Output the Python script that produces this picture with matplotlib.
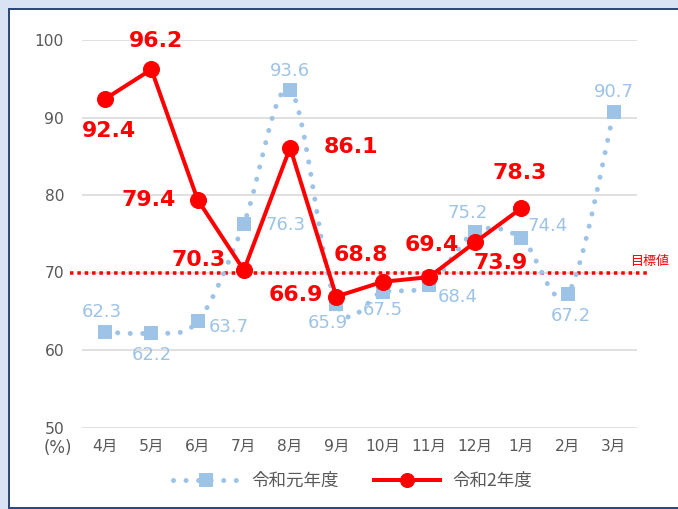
import matplotlib
matplotlib.use('Agg')
import matplotlib.pyplot as plt
import numpy as np
from matplotlib.lines import Line2D
from matplotlib.patches import PathPatch, Rectangle
from matplotlib.path import Path

plt.rcParams['font.family'] = ['DejaVu Sans', 'Noto Sans CJK JP']

months = ['4月', '5月', '6月', '7月', '8月', '9月', '10月', '11月', '12月', '1月', '2月', '3月']
r1_name = '令和元年度'
r2_name = '令和2年度'
r1_values = [62.3, 62.2, 63.7, 76.3, 93.6, 65.9, 67.5, 68.4, 75.2, 74.4, 67.2, 90.7]
r2_values = [92.4, 96.2, 79.4, 70.3, 86.1, 66.9, 68.8, 69.4, 73.9, 78.3]
target = 70
y_ticks = [50, 60, 70, 80, 90, 100]

# label offsets in pixels (dpi 72, so points == pixels)
r1_offsets = [(-3, 20), (0, -22), (31, -6), (42, -1), (0, 19), (-9, -19),
              (0, -18), (29, -12), (-8, 19), (26, 12), (3, -22), (0, 20)]
r2_offsets = [(4, -32), (5, 28), (-49, 0), (-45, 10), (61, 1), (-41, 2),
              (-22, 27), (3, 32), (25, -21), (-2, 35)]

BLUE = '#9dc3e6'
RED = '#ff0000'
GREY = '#595959'
CJK = ['Noto Sans CJK JP', 'DejaVu Sans']


def smooth_path(xs, ys):
    # Excel-like smoothed line: cubic bezier per segment
    pts = np.column_stack([xs, ys]).astype(float)
    n = len(pts)
    verts = [pts[0]]
    codes = [Path.MOVETO]
    for i in range(n - 1):
        p0 = pts[i - 1] if i > 0 else pts[i]
        p1 = pts[i]
        p2 = pts[i + 1]
        p3 = pts[i + 2] if i + 2 < n else pts[i + 1]
        c1 = p1 + (p2 - p0) / 6
        c2 = p2 - (p3 - p1) / 6
        verts += [c1, c2, p2]
        codes += [Path.CURVE4] * 3
    return Path(verts, codes)


fig = plt.figure(figsize=(678 / 72, 509 / 72), dpi=72, facecolor='#dae3f3')
fig.patches.append(Rectangle((8.5 / 678, 1.5 / 509), 1.1, 499 / 509,
                             transform=fig.transFigure, facecolor='white',
                             edgecolor='#2f4a7a', linewidth=2, zorder=-5))

ax = fig.add_axes([82 / 678, 1 - 427.5 / 509, 555 / 678, 387.5 / 509])
ax.set_zorder(2)
ax.set_facecolor('none')
x = np.arange(len(months))

ax.set_xlim(-0.5, len(months) - 0.5)
ax.set_ylim(50, 100)
ax.set_yticks(y_ticks)
ax.set_xticks(x)
ax.set_xticklabels(months)
ax.grid(axis='y', color='#d9d9d9', linewidth=1.6)
ax.set_axisbelow(True)
for s in ax.spines.values():
    s.set_visible(False)
ax.tick_params(length=0, labelsize=15.5, labelcolor=GREY)
ax.tick_params(axis='x', pad=11)
ax.tick_params(axis='y', pad=18)

# target line
ax.axhline(target, xmin=-0.022, xmax=1.02, color=RED, linewidth=3.5,
           linestyle=(0, (1, 1.1)), clip_on=False, zorder=2)
ax.annotate('目標値', xy=(1, target), xycoords=('axes fraction', 'data'),
            xytext=(-6, 11), textcoords='offset points', ha='left', va='center',
            fontsize=13, color=RED, family=CJK, annotation_clip=False)

# 令和元年度
patch = PathPatch(smooth_path(x, r1_values), fill=False, edgecolor=BLUE,
                  linewidth=5, linestyle=(0, (0.01, 2.5)), capstyle='round',
                  zorder=3)
ax.add_patch(patch)
ax.plot(x, r1_values, linestyle='none', marker='s', markersize=14,
        color=BLUE, markeredgewidth=0, zorder=4)
for xi, v, off in zip(x, r1_values, r1_offsets):
    ax.annotate(f'{v:.1f}', (xi, v), xytext=off, textcoords='offset points',
                ha='center', va='center', fontsize=18, color=BLUE, zorder=5)

# 令和2年度
x2 = x[:len(r2_values)]
ax.plot(x2, r2_values, color=RED, linewidth=4, marker='o', markersize=16,
        zorder=6)
for xi, v, off in zip(x2, r2_values, r2_offsets):
    ax.annotate(f'{v:.1f}', (xi, v), xytext=off, textcoords='offset points',
                ha='center', va='center', fontsize=22, fontweight='bold',
                color=RED, zorder=7)

fig.text(58 / 678, 1 - 448 / 509, '(%)', ha='center', va='center',
         fontsize=16.5, color=GREY)

handles = [
    Line2D([], [], color=BLUE, linewidth=5, linestyle=(0, (0.01, 2.5)),
           dash_capstyle='round', marker='s', markersize=14, markeredgewidth=0),
    Line2D([], [], color=RED, linewidth=4, marker='o', markersize=14),
]
fig.legend(handles, [r1_name, r2_name], loc='center',
           bbox_to_anchor=(0.52, 1 - 481 / 509), ncol=2, frameon=False,
           handlelength=3.8, handletextpad=0.7, columnspacing=2.0,
           labelcolor=GREY, prop={'family': CJK, 'size': 17.5})

fig.savefig('out.png', dpi=72, facecolor=fig.get_facecolor())
